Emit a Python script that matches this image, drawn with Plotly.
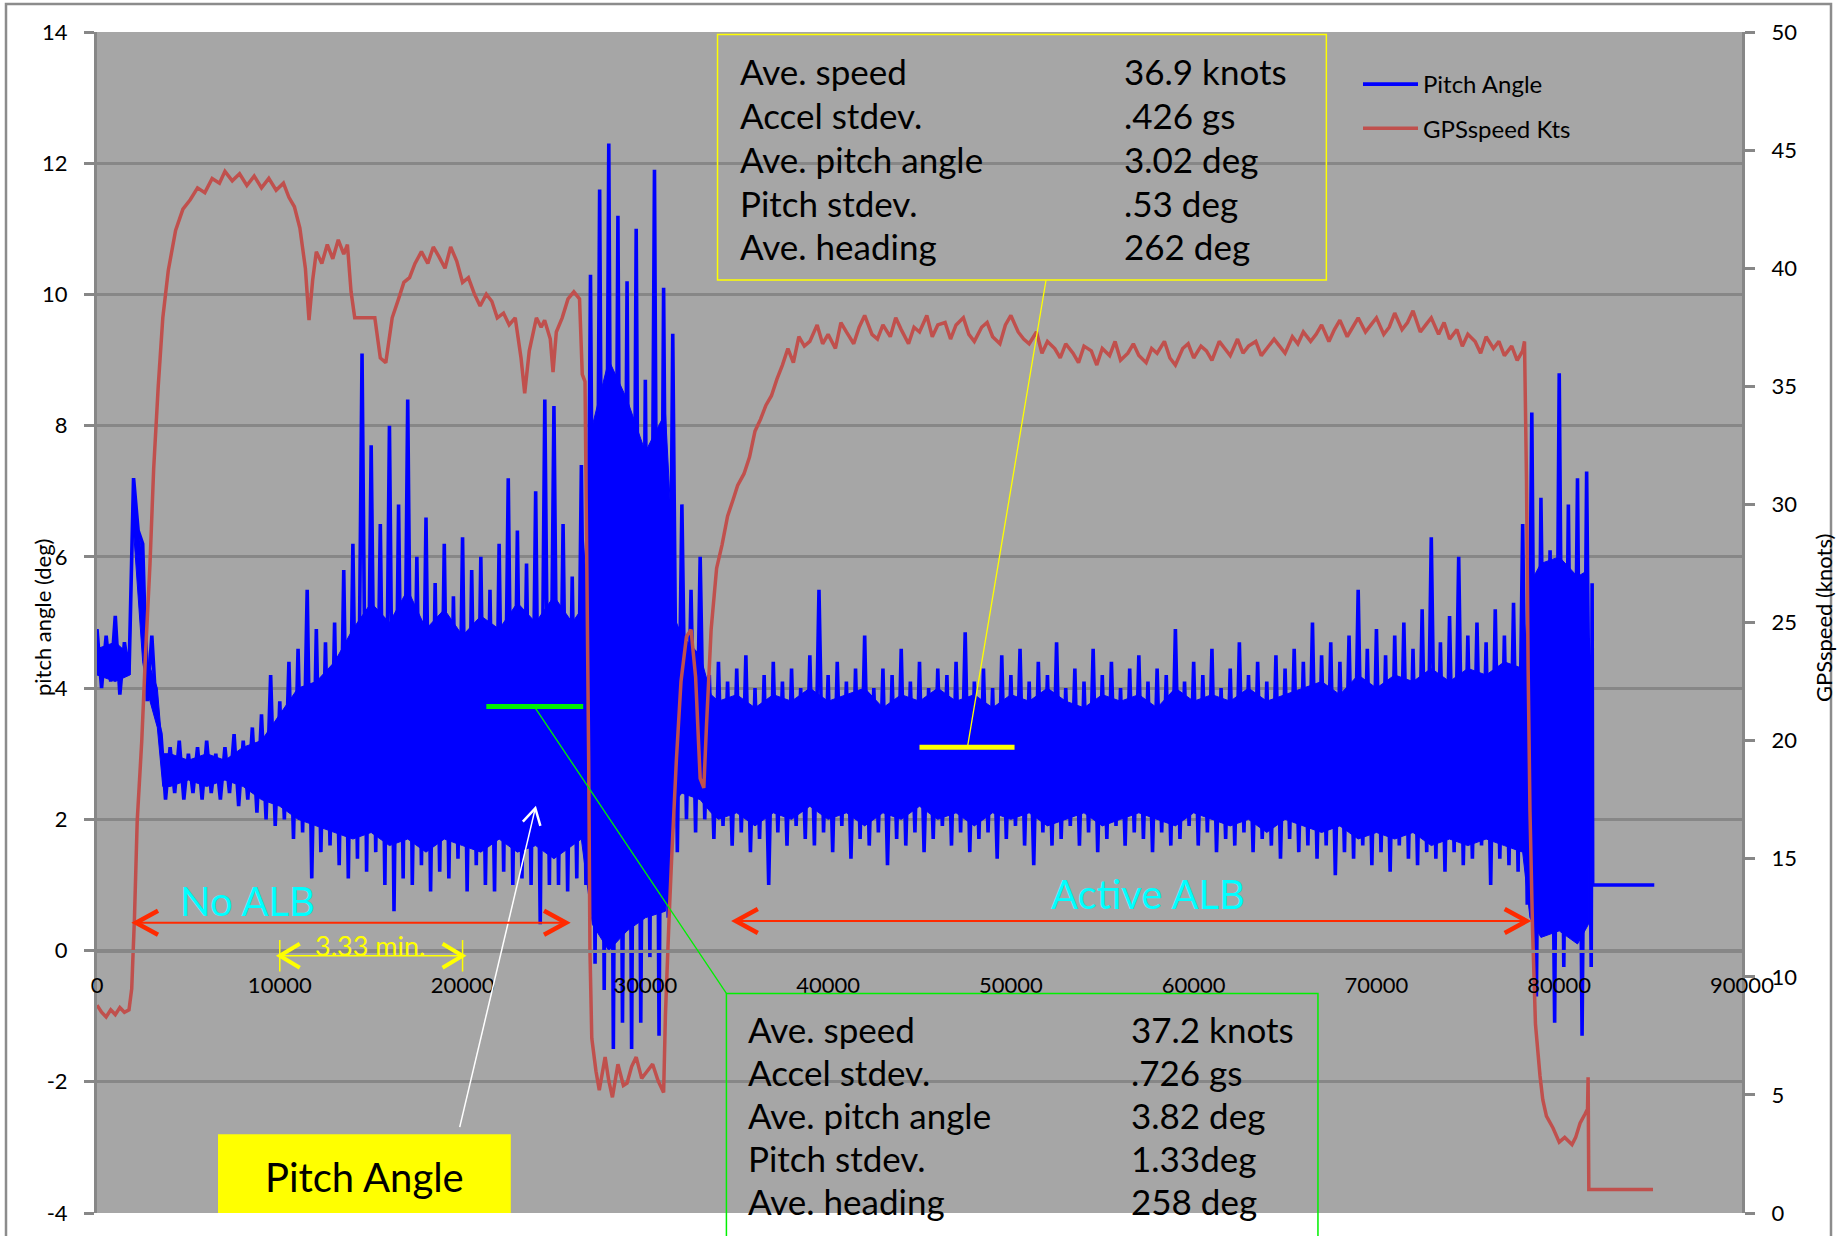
import plotly.graph_objects as go

# ---------------- figure geometry (layout only) ----------------
W, H = 1837, 1236
PL, PR, PT, PB = 97, 1742, 32, 1213          # plot area in pixels
X_RANGE = [0, 90000]
Y_RANGE = [-4, 14]
Y2_RANGE = [0, 50]
FONT = "Lato, Carlito, Calibri, 'Open Sans', sans-serif"

# ---------------- data ----------------
# Pitch angle (deg): upper / lower excursion of the dense signal in each 500-sample bin
sample_x = list(range(0, 82000, 500))
pitch_hi = [
    4.9, 4.8, 5.1, 4.7, 7.2, 6.2, 4.8, 3.3, 3.1, 3.2,
    3.0, 3.1, 3.2, 3.0, 3.1, 3.3, 3.2, 3.4, 3.6, 4.2,
    3.8, 4.4, 4.6, 5.5, 4.9, 4.7, 5.0, 5.8, 6.2, 9.1,
    7.7, 6.5, 8.0, 6.8, 8.4, 6.0, 6.6, 5.6, 6.2, 5.4,
    6.3, 5.8, 6.0, 5.5, 6.2, 7.2, 6.4, 5.9, 7.0, 8.4,
    8.3, 6.5, 5.7, 7.4, 10.3, 11.6, 12.3, 11.2, 10.2, 11.0,
    8.7, 11.9, 10.1, 9.4, 6.8, 5.5, 6.0, 4.2, 4.4, 4.1,
    4.3, 4.5, 4.0, 4.2, 4.4, 4.1, 4.3, 4.0, 4.5, 5.5,
    4.2, 4.4, 4.1, 4.3, 4.8, 4.0, 4.3, 4.2, 4.6, 4.1,
    4.4, 4.0, 4.3, 4.2, 4.4, 4.85, 4.1, 4.3, 4.0, 4.5,
    4.2, 4.6, 4.1, 4.4, 4.2, 4.7, 4.0, 4.3, 4.1, 4.6,
    4.2, 4.4, 4.0, 4.3, 4.5, 4.1, 4.3, 4.2, 4.9, 4.1,
    4.4, 4.2, 4.6, 4.0, 4.3, 4.7, 4.2, 4.4, 4.1, 4.5,
    4.3, 4.6, 4.4, 5.0, 4.5, 4.7, 4.4, 4.8, 5.5, 4.6,
    4.9, 4.5, 4.8, 5.0, 4.6, 5.2, 6.3, 4.7, 5.1, 6.0,
    4.8, 5.0, 4.7, 5.2, 4.8, 5.3, 6.5, 8.2, 6.9, 6.1,
    8.8, 6.8, 7.2, 7.3,
]
pitch_lo = [
    4.0, 4.1, 3.9, 4.2, 6.4, 3.8, 3.6, 2.3, 2.4, 2.3,
    2.4, 2.3, 2.4, 2.3, 2.4, 2.2, 2.3, 2.1, 2.0, 1.9,
    2.0, 1.7, 1.8, 1.1, 1.5, 1.6, 1.3, 1.1, 1.4, 1.2,
    1.5, 1.0, 0.6, 1.1, 1.0, 1.3, 0.9, 1.2, 1.1, 1.4,
    0.9, 1.3, 1.0, 0.9, 1.2, 1.0, 1.1, 1.0, 0.4, 1.0,
    1.0, 0.9, 1.1, 1.0, -0.2, -0.6, -1.5, -1.1, -1.5, -1.1,
    -0.1, -1.3, 0.5, 1.5, 2.0, 1.8, 2.0, 1.7, 1.9, 1.6,
    1.8, 1.5, 1.7, 1.0, 1.8, 1.6, 1.9, 1.7, 1.6, 1.8,
    1.5, 1.9, 1.4, 1.7, 1.6, 1.8, 1.3, 1.7, 1.6, 1.8,
    1.5, 1.7, 1.9, 1.6, 1.8, 1.5, 1.7, 1.8, 1.4, 1.7,
    1.9, 1.6, 1.3, 1.8, 1.6, 1.7, 1.9, 1.6, 1.8, 1.5,
    1.7, 1.9, 1.6, 1.8, 1.7, 1.5, 1.8, 1.6, 1.7, 1.9,
    1.6, 1.8, 1.5, 1.7, 1.6, 1.8, 1.5, 1.7, 1.6, 1.4,
    1.7, 1.5, 1.6, 1.4, 1.6, 1.15, 1.5, 1.4, 1.6, 1.3,
    1.5, 1.2, 1.6, 1.4, 1.3, 1.5, 1.4, 1.2, 1.5, 1.3,
    1.4, 1.6, 1.0, 1.4, 1.3, 1.2, 0.7, -0.7, 1.2, -1.1,
    -0.25, 0.36, -1.3, -0.25,
]
pitch_tail_x = [81800, 81830, 85200]
pitch_tail = [5.6, 1.0, 1.0]

# solid (densely over-plotted) core of the pitch signal
core_x = [
    0, 1000, 1800, 1950, 2500, 2800, 3300, 3600, 4000, 5000,
    6000, 7000, 8000, 9000, 10000, 11000, 12000, 13000, 14000, 15000,
    16000, 17000, 18000, 19000, 20000, 21000, 22000, 23000, 24000, 25000,
    26000, 26500, 27100, 28000, 29000, 30000, 31100, 31700, 32000, 33000,
    33600, 34000, 35000, 36000, 37000, 38000, 39000, 40000, 41000, 42000,
    43000, 44000, 45000, 46000, 47000, 48000, 49000, 50000, 51000, 52000,
    53000, 54000, 55000, 56000, 57000, 58000, 59000, 60000, 61000, 62000,
    63000, 64000, 65000, 66000, 67000, 68000, 69000, 70000, 71000, 72000,
    73000, 74000, 75000, 76000, 77000, 78000, 78400, 79000, 80000, 81000,
    81600,
]
core_hi = [
    4.6, 4.7, 4.5, 6.9, 6.0, 4.4, 4.0, 3.0, 3.0, 2.9,
    3.0, 2.9, 3.1, 3.2, 3.6, 4.0, 4.1, 4.4, 4.9, 5.3,
    5.0, 5.5, 4.9, 5.2, 4.8, 5.1, 4.9, 5.3, 5.0, 5.4,
    5.0, 5.2, 8.0, 9.0, 8.4, 7.6, 8.2, 5.0, 4.8, 4.5,
    3.9, 3.8, 3.9, 3.7, 3.9, 3.8, 4.0, 3.8, 3.9, 4.0,
    3.7, 3.9, 3.8, 4.0, 3.8, 3.9, 3.7, 3.9, 3.8, 4.0,
    3.8, 3.7, 3.9, 3.8, 3.9, 3.7, 4.0, 3.8, 3.9, 3.8,
    4.0, 3.8, 3.9, 4.0, 4.1, 3.9, 4.2, 4.0, 4.2, 4.1,
    4.3, 4.1, 4.3, 4.2, 4.4, 4.3, 5.6, 5.9, 6.0, 5.7,
    5.8,
]
core_lo = [
    4.2, 4.1, 4.2, 6.6, 4.4, 3.9, 3.4, 2.5, 2.5, 2.6,
    2.5, 2.6, 2.5, 2.3, 2.2, 2.0, 1.9, 1.8, 1.7, 1.8,
    1.6, 1.7, 1.5, 1.7, 1.6, 1.5, 1.7, 1.5, 1.6, 1.4,
    1.6, 1.7, 0.4, 0.0, 0.3, 0.5, 0.6, 2.3, 2.4, 2.3,
    2.1, 2.0, 2.1, 1.9, 2.1, 2.0, 2.2, 2.0, 2.1, 1.9,
    2.1, 2.0, 2.2, 2.0, 2.1, 1.9, 2.1, 2.0, 2.1, 1.9,
    2.0, 2.1, 1.9, 2.0, 2.1, 2.0, 1.9, 2.1, 2.0, 1.9,
    2.0, 1.8, 2.0, 1.9, 1.8, 1.9, 1.7, 1.8, 1.7, 1.8,
    1.6, 1.7, 1.6, 1.7, 1.6, 1.5, 0.5, 0.2, 0.3, 0.1,
    0.4,
]

# GPS speed (knots)
speed_x = [
    0, 250, 500, 750, 1000, 1250, 1500, 1750, 1900, 2050,
    2200, 2450, 2650, 2900, 3100, 3350, 3600, 3900, 4300, 4700,
    5100, 5500, 5900, 6300, 6700, 7000, 7400, 7800, 8200, 8600,
    9000, 9400, 9800, 10200, 10500, 10800, 11100, 11400, 11600, 11800,
    12000, 12300, 12600, 12900, 13200, 13500, 13700, 13900, 14100, 15200,
    15500, 15800, 16150, 16500, 16790, 17100, 17400, 17750, 18100, 18400,
    18700, 19040, 19350, 19680, 20000, 20320, 20650, 20960, 21300, 21600,
    21900, 22240, 22550, 22880, 23200, 23400, 23650, 24040, 24300, 24490,
    24800, 24950, 25130, 25450, 25770, 26090, 26400, 26550, 26700, 26800,
    26900, 26970, 27070, 27300, 27480, 27800, 28000, 28200, 28500, 28800,
    29000, 29250, 29500, 29800, 30100, 30400, 30700, 31000, 31100, 31300,
    31450, 31700, 31950, 32250, 32500, 32750, 33000, 33200, 33350, 33600,
    33900, 34200, 34500, 34800, 35050, 35400, 35700, 36000, 36300, 36600,
    36900, 37200, 37500, 37800, 38100, 38400, 38700, 39000, 39400, 39700,
    40000, 40400, 40700, 41000, 41400, 41700, 42000, 42400, 42700, 43000,
    43400, 43700, 44000, 44400, 44700, 45000, 45400, 45700, 46000, 46400,
    46700, 47000, 47400, 47700, 48000, 48400, 48700, 49000, 49400, 49700,
    50000, 50400, 50700, 51000, 51400, 51700, 52000, 52400, 52700, 53000,
    53400, 53700, 54000, 54400, 54700, 55000, 55400, 55700, 56000, 56400,
    56700, 57000, 57400, 57700, 58000, 58400, 58700, 59000, 59400, 59700,
    60000, 60400, 60700, 61000, 61400, 61700, 62000, 62400, 62700, 63000,
    63400, 63700, 64000, 64400, 64700, 65000, 65400, 65700, 66000, 66400,
    66700, 67000, 67400, 67700, 68000, 68400, 68700, 69000, 69400, 69700,
    70000, 70400, 70700, 71000, 71400, 71700, 72000, 72400, 72700, 73000,
    73400, 73700, 74000, 74400, 74700, 75000, 75400, 75700, 76000, 76400,
    76700, 77000, 77400, 77700, 78000, 78100, 78210, 78300, 78400, 78540,
    78700, 78950, 79100, 79300, 79660, 80000, 80300, 80700, 80900, 81140,
    81420, 81550, 81580, 81620, 85130,
]
speed_kts = [
    8.8, 8.5, 8.3, 8.6, 8.4, 8.7, 8.5, 8.6, 9.5, 12.5,
    16.6, 20.0, 23.6, 27.5, 31.5, 35.0, 37.9, 39.9, 41.6, 42.5,
    42.9, 43.4, 43.2, 43.8, 43.6, 44.1, 43.7, 44.0, 43.5, 43.9,
    43.4, 43.8, 43.3, 43.6, 43.0, 42.6, 41.7, 40.0, 37.8, 39.5,
    40.7, 40.2, 41.0, 40.4, 41.2, 40.6, 41.0, 39.0, 37.9, 37.9,
    36.2, 36.0, 37.9, 38.7, 39.4, 39.6, 40.2, 40.7, 40.2, 40.9,
    40.5, 40.0, 40.9, 40.3, 39.4, 39.6, 38.9, 38.4, 38.9, 38.6,
    37.9, 38.1, 37.6, 37.9, 36.2, 34.7, 36.5, 37.9, 37.5, 37.8,
    37.0, 35.6, 37.3, 37.9, 38.7, 39.0, 38.7, 35.5, 35.2, 27.3,
    19.2, 11.1, 7.4, 6.0, 5.2, 6.6, 5.6, 4.9, 6.3, 5.4,
    5.5, 6.2, 6.6, 5.7, 6.0, 6.3, 5.6, 5.1, 8.4, 12.5,
    15.2, 19.2, 22.5, 24.4, 24.7, 22.7, 18.4, 18.0, 20.7, 24.7,
    27.3, 28.3, 29.5, 30.2, 30.8, 31.3, 32.0, 33.1, 33.6, 34.2,
    34.6, 35.3, 35.9, 36.6, 36.0, 37.1, 36.7, 36.9, 37.6, 36.8,
    37.2, 36.6, 37.7, 37.3, 36.8, 37.5, 38.0, 37.2, 37.0, 37.6,
    37.1, 37.9, 37.4, 36.8, 37.5, 37.3, 38.0, 37.1, 37.6, 37.7,
    37.0, 37.6, 37.9, 37.2, 36.9, 37.5, 37.7, 37.1, 36.8, 37.6,
    38.0, 37.3, 37.0, 36.8, 37.3, 36.4, 36.9, 36.6, 36.2, 36.8,
    36.4, 36.0, 36.7, 36.5, 35.9, 36.6, 36.3, 36.9, 36.1, 36.4,
    36.8, 36.3, 36.0, 36.6, 36.4, 36.9, 36.2, 35.9, 36.6, 36.8,
    36.2, 36.7, 36.5, 36.1, 36.9, 36.6, 36.3, 37.0, 36.4, 36.7,
    36.9, 36.3, 36.6, 37.0, 36.7, 36.4, 37.1, 36.8, 37.3, 36.9,
    37.2, 37.6, 36.9, 37.4, 37.8, 37.1, 37.5, 37.9, 37.3, 37.6,
    37.9, 37.2, 37.5, 38.1, 37.4, 37.7, 38.2, 37.3, 37.6, 37.9,
    37.2, 37.7, 37.0, 37.4, 36.7, 37.2, 36.9, 36.4, 37.1, 36.6,
    36.9, 36.3, 36.7, 36.1, 36.5, 36.9, 31.0, 23.0, 17.0, 12.0,
    8.0, 5.8, 4.8, 4.1, 3.6, 3.0, 3.2, 2.9, 3.2, 3.8,
    4.2, 4.4, 5.75, 1.0, 1.0,
]
assert len(sample_x) == len(pitch_hi) == len(pitch_lo)
assert len(core_x) == len(core_hi) == len(core_lo)
assert len(speed_x) == len(speed_kts)

left_ticks = [-4, -2, 0, 2, 4, 6, 8, 10, 12, 14]
right_ticks = [0, 5, 10, 15, 20, 25, 30, 35, 40, 45, 50]
x_ticks = [0, 10000, 20000, 30000, 40000, 50000, 60000, 70000, 80000, 90000]

# Annotation contents
box_labels = ["Ave. speed", "Accel stdev.", "Ave. pitch angle", "Pitch stdev.", "Ave. heading"]
active_values = ["36.9 knots", ".426 gs", "3.02 deg", ".53 deg", "262 deg"]
noalb_values = ["37.2 knots", ".726 gs", "3.82 deg", "1.33deg", "258 deg"]
active_ave_pitch_line = dict(x0=45000, x1=50200, y=3.1)
noalb_ave_pitch_line = dict(x0=21300, x1=26600, y=3.72)

# ---------------- helpers (pixel size -> data units) ----------------
def dxp(n):
    return n / (PR - PL) * (X_RANGE[1] - X_RANGE[0])


def dyp(n):
    return n / (PB - PT) * (Y_RANGE[1] - Y_RANGE[0])


def head(x_tip, y_tip, x_from, y_from, length, half, color, width):
    """open chevron arrow head at (x_tip, y_tip) pointing away from (x_from, y_from)."""
    vx = (x_tip - x_from) / dxp(1)
    vy = (y_tip - y_from) / dyp(1)
    n = (vx * vx + vy * vy) ** 0.5
    ux, uy = vx / n, vy / n
    px, py = -uy, ux
    ax = x_tip + dxp(-length * ux + half * px)
    ay = y_tip + dyp(-length * uy + half * py)
    bx = x_tip + dxp(-length * ux - half * px)
    by = y_tip + dyp(-length * uy - half * py)
    return dict(type="path", xref="x", yref="y", layer="above",
                path=f"M {ax},{ay} L {x_tip},{y_tip} L {bx},{by}",
                line=dict(color=color, width=width))


def seg(x0, y0, x1, y1, color, width):
    return dict(type="line", xref="x", yref="y", layer="above",
                x0=x0, y0=y0, x1=x1, y1=y1, line=dict(color=color, width=width))


# ---------------- traces ----------------
pitch_xs, pitch_ys = [], []
for x, hi, lo in zip(sample_x, pitch_hi, pitch_lo):
    pitch_xs += [x, x + 250]
    pitch_ys += [hi, lo]
pitch_xs += pitch_tail_x
pitch_ys += pitch_tail

fig = go.Figure()
fig.add_trace(go.Scatter(x=core_x + core_x[::-1], y=core_hi + core_lo[::-1],
                         mode="lines", fill="toself", fillcolor="#0000FF",
                         line=dict(width=1, color="#0000FF"),
                         showlegend=False, hoverinfo="skip"))
fig.add_trace(go.Scatter(x=pitch_xs, y=pitch_ys, mode="lines", name="Pitch Angle",
                         legendgroup="a",
                         line=dict(color="#0000FF", width=3.6, simplify=False)))
fig.add_trace(go.Scatter(x=speed_x, y=speed_kts, mode="lines", name="GPSspeed Kts",
                         legendgroup="b", yaxis="y2",
                         line=dict(color="#C0504D", width=3.5, simplify=False)))

# ---------------- shapes ----------------
RED = "#FF2A00"
YEL = "#FFFF00"
GRN = "#00F000"
shapes = []
# outer chart border
shapes.append(dict(type="rect", xref="paper", yref="paper",
                   x0=(6 - PL) / (PR - PL), x1=(1831 - PL) / (PR - PL),
                   y0=(PB - 1245) / (PB - PT), y1=(PB - 4) / (PB - PT),
                   line=dict(color="#8C8C8C", width=2.5), layer="below"))
# yellow stats box (Active ALB)
shapes.append(dict(type="rect", xref="x", yref="y", x0=33950, x1=67260, y0=10.22, y1=13.96,
                   line=dict(color=YEL, width=1.5), layer="above"))
# green stats box (No ALB) - extends below the plot
shapes.append(dict(type="rect", xref="paper", yref="paper",
                   x0=34436 / 90000, x1=66800 / 90000,
                   y0=-0.04, y1=(-0.654 - Y_RANGE[0]) / 18,
                   line=dict(color=GRN, width=1.5), layer="above"))
# "Pitch Angle" yellow label box
shapes.append(dict(type="rect", xref="x", yref="y", x0=6620, x1=22640, y0=-4, y1=-2.80,
                   fillcolor=YEL, line=dict(width=0), layer="above"))
# average pitch markers
shapes.append(seg(active_ave_pitch_line["x0"], active_ave_pitch_line["y"],
                  active_ave_pitch_line["x1"], active_ave_pitch_line["y"], YEL, 5))
shapes.append(seg(noalb_ave_pitch_line["x0"], noalb_ave_pitch_line["y"],
                  noalb_ave_pitch_line["x1"], noalb_ave_pitch_line["y"], GRN, 5))
# leader lines
shapes.append(seg(47636, 3.12, 51923, 10.22, YEL, 1.3))
shapes.append(seg(23974, 3.70, 34436, -0.654, GRN, 1.3))
shapes.append(seg(19845, -2.69, 23981, 2.17, "white", 1.5))
shapes.append(head(23981, 2.17, 19845, -2.69, 16, 9, "white", 2.5))
# red double arrows (No ALB / Active ALB)
for (xa, xb, yv) in [(2135, 25660, 0.425), (34950, 78220, 0.45)]:
    shapes.append(seg(xa, yv, xb, yv, RED, 2))
    shapes.append(head(xa, yv, xb, yv, 22, 12, RED, 4.5))
    shapes.append(head(xb, yv, xa, yv, 22, 12, RED, 4.5))
# yellow 3.33 min dimension arrow
shapes.append(seg(10000, -0.08, 20000, -0.08, YEL, 1.5))
shapes.append(head(10000, -0.08, 20000, -0.08, 20, 12, YEL, 4))
shapes.append(head(20000, -0.08, 10000, -0.08, 20, 12, YEL, 4))
shapes.append(seg(10000, 0.16, 10000, -0.32, YEL, 1.5))
shapes.append(seg(20000, 0.16, 20000, -0.32, YEL, 1.5))

# ---------------- annotations ----------------
ann = []
BOX_FS = 35
for i, (lab, v1, v2) in enumerate(zip(box_labels, active_values, noalb_values)):
    ya = 13.40 - i * 0.667
    yg = -1.19 - i * 0.655
    ann.append(dict(x=35070, y=ya, text=lab, xanchor="left", yanchor="middle"))
    ann.append(dict(x=56080, y=ya, text=v1, xanchor="left", yanchor="middle"))
    ann.append(dict(x=35490, y=yg, text=lab, xanchor="left", yanchor="middle"))
    ann.append(dict(x=56460, y=yg, text=v2, xanchor="left", yanchor="middle"))
for a in ann:
    a.update(xref="x", yref="y", showarrow=False, font=dict(size=BOX_FS, color="black", family=FONT))

ann += [
    dict(x=14660, y=-3.45, text="Pitch Angle", xref="x", yref="y", showarrow=False,
         font=dict(size=40, color="black", family=FONT)),
    dict(x=8260, y=0.76, text="No ALB", xref="x", yref="y", showarrow=False,
         font=dict(size=40, color="#00FFFF", family=FONT)),
    dict(x=57500, y=0.86, text="Active ALB", xref="x", yref="y", showarrow=False,
         font=dict(size=40, color="#00FFFF", family=FONT)),
    dict(x=14940, y=0.08, text="3.33 min.", xref="x", yref="y", showarrow=False,
         font=dict(size=27, color=YEL, family=FONT)),
    dict(x=(42 - PL) / (PR - PL), y=(PB - 618) / (PB - PT), xref="paper", yref="paper",
         xanchor="center", yanchor="middle",
         text="pitch angle (deg)", textangle=-90, showarrow=False,
         font=dict(size=22, color="black", family=FONT)),
    dict(x=(1823 - PL) / (PR - PL), y=(PB - 618) / (PB - PT), xref="paper", yref="paper",
         xanchor="center", yanchor="middle",
         text="GPSspeed (knots)", textangle=-90, showarrow=False,
         font=dict(size=22, color="black", family=FONT)),
]

GRID = "#878787"
fig.update_layout(
    width=W, height=H,
    margin=dict(l=PL, r=W - PR, t=PT, b=H - PB, autoexpand=False),
    paper_bgcolor="white", plot_bgcolor="#A6A6A6",
    font=dict(family=FONT, size=22, color="black"),
    showlegend=True,
    legend=dict(x=(1358 - PL) / (PR - PL), y=(PB - 62) / (PB - PT), xanchor="left", yanchor="top",
                bgcolor="rgba(0,0,0,0)", font=dict(size=24, color="black", family=FONT),
                traceorder="grouped", tracegroupgap=10, itemwidth=55),
    xaxis=dict(range=X_RANGE, tickvals=x_ticks, ticktext=[str(v) for v in x_ticks],
               anchor="free", position=(0 - Y_RANGE[0]) / (Y_RANGE[1] - Y_RANGE[0]),
               showgrid=False, zeroline=False, showline=True, linecolor=GRID, linewidth=2.5,
               ticks="", ticklabelstandoff=14, tickfont=dict(size=22, color="black")),
    yaxis=dict(range=Y_RANGE, tickvals=left_ticks, ticktext=[str(v) for v in left_ticks],
               showgrid=True, gridcolor=GRID, gridwidth=2.5,
               zeroline=False, showline=True, linecolor=GRID, linewidth=3,
               ticks="outside", ticklen=10, tickwidth=2.5, tickcolor=GRID,
               ticklabelstandoff=12, tickfont=dict(size=22, color="black")),
    yaxis2=dict(range=Y2_RANGE, tickvals=right_ticks, ticktext=[str(v) for v in right_ticks],
                overlaying="y", side="right",
                showgrid=False, zeroline=False, showline=True, linecolor=GRID, linewidth=3,
                ticks="outside", ticklen=10, tickwidth=2.5, tickcolor=GRID,
                ticklabelstandoff=12, tickfont=dict(size=22, color="black")),
    shapes=shapes,
    annotations=ann,
)

fig.write_html("out.html", config={"displayModeBar": False},
               post_script="document.body.style.margin='0';document.body.style.overflow='hidden';")
